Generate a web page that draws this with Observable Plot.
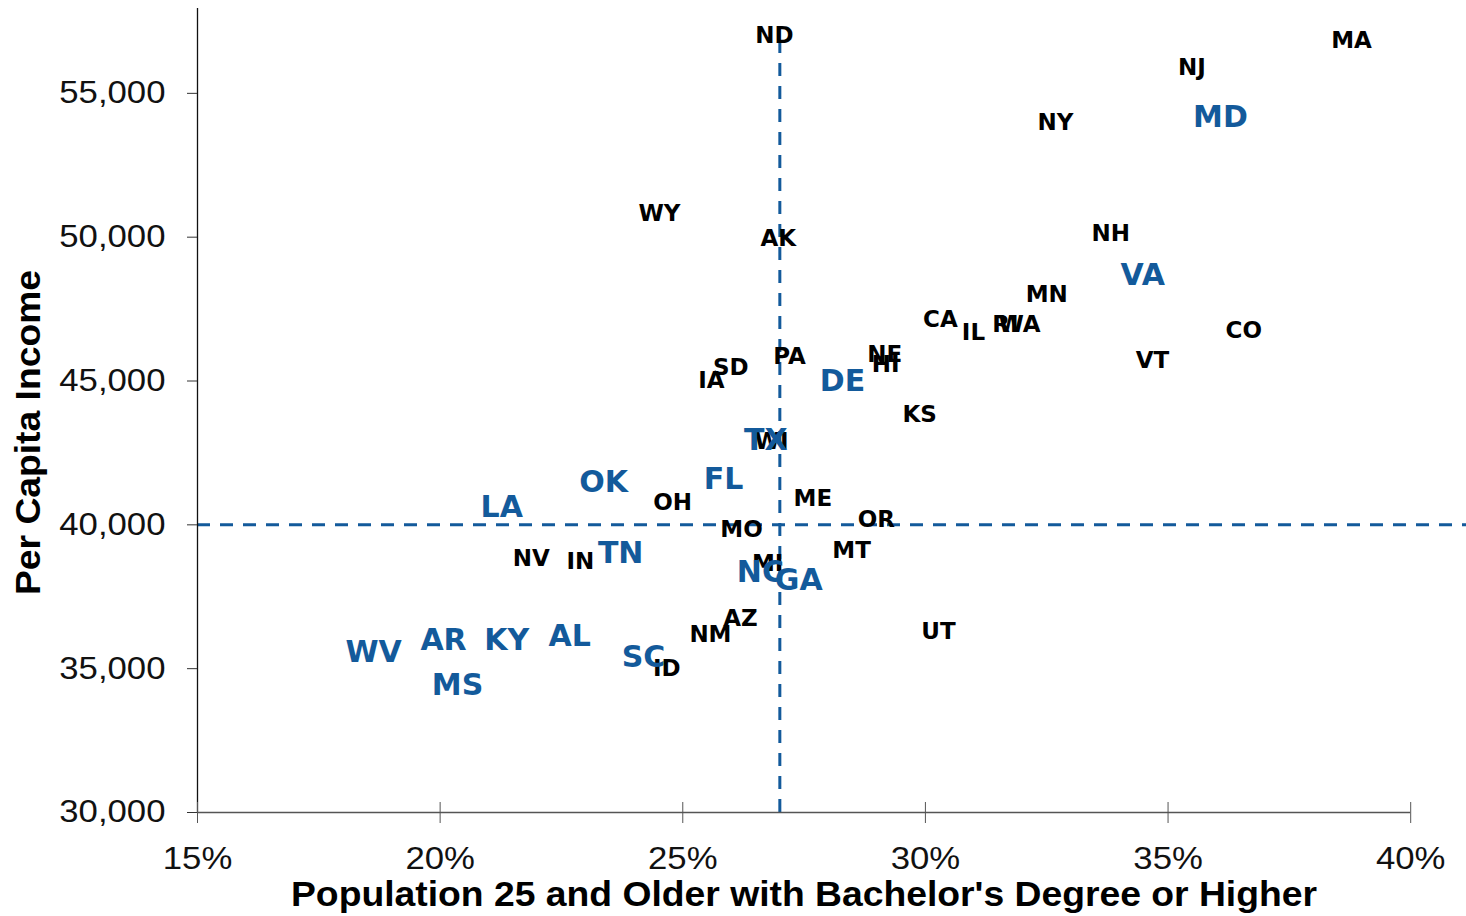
<!DOCTYPE html>
<html>
<head>
<meta charset="utf-8">
<script src="https://cdn.jsdelivr.net/npm/d3@7"></script>
<script src="https://cdn.jsdelivr.net/npm/@observablehq/plot@0.6"></script>
<style>
  html, body { margin: 0; padding: 0; background: #fff; }
  #chart svg { display: block; }
</style>
</head>
<body>
<div id="chart"></div>
<script>
// State abbreviations
const states = ["ND","MA","NJ","NY","MD","WY","AK","NH","VA","MN","CA","IL","RI","WA","CO","VT","PA","NE","HI","SD","IA","DE","KS","TX","WI","OK","FL","LA","OH","ME","MO","OR","NV","IN","TN","MT","MI","NC","GA","AZ","NM","UT","AR","KY","AL","WV","SC","ID","MS"];
// Share of population 25+ with bachelor's degree or higher (%)
const bachelors = [26.89,38.78,35.49,32.68,36.08,24.52,26.97,33.82,34.48,32.50,30.31,30.99,31.65,31.94,36.56,34.68,27.20,29.16,29.18,25.99,25.59,28.29,29.88,26.71,26.83,23.37,25.84,21.27,24.79,27.68,26.21,28.99,21.88,22.89,23.72,28.48,26.75,26.60,27.39,26.19,25.57,30.27,20.07,21.37,22.67,18.63,24.19,24.67,20.36];
// Per capita income ($)
const income = [57016,56842,55904,53991,54165,50827,49958,50132,48671,48011,47142,46690,46968,46968,46759,45716,45855,45925,45577,45473,45021,44986,43838,42934,42900,41474,41578,40605,40779,40918,39840,40188,38832,38727,39005,39110,38658,38345,38066,36745,36189,36293,35980,35980,36120,35563,35389,35007,34416];
// Southern (highlighted) states
const highlighted = ["MD","VA","DE","TX","OK","FL","LA","TN","NC","GA","AR","KY","AL","WV","SC","MS"];

const xTicks = [15, 20, 25, 30, 35, 40];
const yTicks = [30000, 35000, 40000, 45000, 50000, 55000];
const avgBachelors = 27;
const avgIncome = 40000;
const xTitle = "Population 25 and Older with Bachelor's Degree or Higher";
const yTitle = "Per Capita Income";

const rows = states.map((s, i) => ({state: s, x: bachelors[i], y: income[i], hi: highlighted.includes(s)}));

const blue = "#135a9b";
const tickFont = "Liberation Sans, Arial, sans-serif";

const chart = Plot.plot({
  width: 1466,
  height: 916,
  marginLeft: 197,
  marginRight: 0,
  marginTop: 8,
  marginBottom: 104,
  style: {background: "#fff", overflow: "visible"},
  x: {domain: [15, 41.15]},
  y: {domain: [30000, 57950]},
  marks: [
    Plot.ruleY([avgIncome], {stroke: blue, strokeWidth: 3, strokeDasharray: "13,10"}),
    Plot.ruleX([avgBachelors], {y1: 30000, y2: 57000, stroke: blue, strokeWidth: 3, strokeDasharray: "13,10"}),
    Plot.ruleX([15], {stroke: "#111", strokeWidth: 1.3}),
    Plot.ruleY([30000], {x1: 15, x2: 40, stroke: "#555", strokeWidth: 1.3}),
    Plot.axisY({
      ticks: yTicks, tickFormat: d3.format(","), tickSize: 10, tickPadding: 22,
      stroke: "#333", fill: "#111", fontSize: 31, fontFamily: tickFont,
      label: null
    }),
    Plot.axisX({
      ticks: xTicks, tickFormat: d => d + "%", tickSize: 21, dy: -10, tickPadding: 23,
      stroke: "#555", fill: "#111", fontSize: 31, fontFamily: tickFont,
      label: null
    }),
    Plot.text(rows.filter(d => !d.hi), {
      x: "x", y: "y", text: "state", fill: "#000",
      fontSize: 23, fontWeight: "bold", fontFamily: "DejaVu Sans"
    }),
    Plot.text(rows.filter(d => d.hi), {
      x: "x", y: "y", text: "state", fill: blue,
      fontSize: 30, fontWeight: "bold", fontFamily: "DejaVu Sans"
    }),
    Plot.text([xTitle], {
      frameAnchor: "bottom", dx: -28, dy: 82, text: d => d, textAnchor: "middle", lineAnchor: "middle",
      fontSize: 35, fontWeight: "bold", fontFamily: "Liberation Sans, Arial, sans-serif", fill: "#000"
    }),
    Plot.text([yTitle], {
      frameAnchor: "left", dx: -169, dy: 22, rotate: -90, text: d => d, textAnchor: "middle", lineAnchor: "middle",
      fontSize: 35, fontWeight: "bold", fontFamily: "Liberation Sans, Arial, sans-serif", fill: "#000"
    })
  ]
});

document.getElementById("chart").appendChild(chart);

// Stretch glyphs horizontally like the reference rendering
d3.select(chart).selectAll("text").each(function() {
  const t = this.textContent;
  let target = null;
  if (t === xTitle) target = 1026;
  else if (t === yTitle) target = 325;
  else if (/^\d{2},\d{3}$/.test(t) || /%$/.test(t)) target = this.getComputedTextLength() * 1.12;
  if (target) {
    this.setAttribute("textLength", target);
    this.setAttribute("lengthAdjust", "spacingAndGlyphs");
  }
});
</script>
</body>
</html>
